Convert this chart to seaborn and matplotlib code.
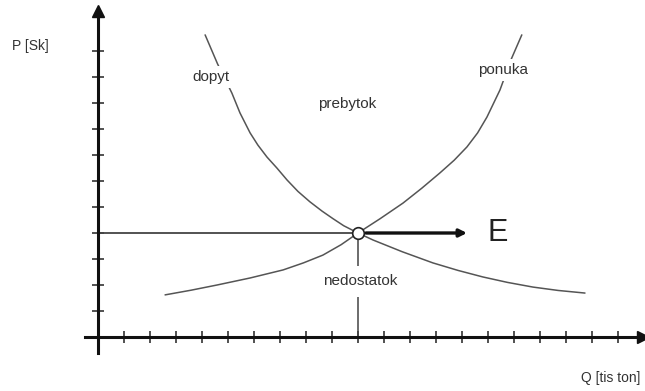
import matplotlib
matplotlib.use('Agg')
import matplotlib.pyplot as plt
import seaborn as sns

# market diagram: demand (dopyt) vs supply (ponuka)
demand_q = [4.12, 4.6, 5.15, 5.46, 5.85, 6.15, 6.5, 6.88, 7.27, 7.69, 8.15, 8.62,
            9.04, 9.45, 10.0, 10.58, 11.7, 12.88, 13.85, 14.8, 15.75, 16.73,
            17.7, 18.73]
demand_p = [11.62, 10.5, 9.38, 8.62, 7.85, 7.38, 6.92, 6.5, 6.04, 5.6, 5.2, 4.84,
            4.55, 4.28, 4.0, 3.73, 3.28, 2.85, 2.56, 2.31, 2.1, 1.92,
            1.79, 1.69]

supply_q = [2.58, 3.58, 4.58, 5.85, 7.12, 7.9, 8.65, 9.35, 10.0, 10.85, 11.73,
            12.45, 13.15, 13.7, 14.19, 14.6, 14.96, 15.46, 15.9, 16.3]
supply_p = [1.62, 1.8, 2.0, 2.27, 2.58, 2.85, 3.15, 3.55, 4.0, 4.55, 5.15,
            5.72, 6.31, 6.8, 7.31, 7.85, 8.46, 9.5, 10.7, 11.62]

eq_q, eq_p = 10.0, 4.0
arrow_len = 4.3

q_ticks = list(range(1, 21))
p_ticks = list(range(1, 12))

TXT = '#333333'
CURVE = '#555555'

sns.set_theme(style='white')
plt.rcParams['font.family'] = ['Liberation Sans', 'DejaVu Sans']

fig = plt.figure(figsize=(6.45, 3.91), dpi=100)
ax = fig.add_axes([0, 0, 1, 1])
ax.set_xlim(-98 / 26, 547 / 26)
ax.set_ylim(-54 / 26, 337 / 26)

# axes through the origin, with arrow heads
for side in ['top', 'right']:
    ax.spines[side].set_visible(False)
ax.spines['left'].set_position(('data', 0))
ax.spines['bottom'].set_position(('data', 0))
ax.spines['left'].set_bounds(-0.6, 12.4)
ax.spines['bottom'].set_bounds(-0.5, 20.8)
for side in ['left', 'bottom']:
    ax.spines[side].set_linewidth(2.2)
    ax.spines[side].set_color('#111111')
    ax.spines[side].set_zorder(4)
ax.plot(0, 12.55, marker='^', ms=8, color='#111111', clip_on=False, zorder=5)
ax.plot(20.95, 0, marker='>', ms=8, color='#111111', clip_on=False, zorder=5)

ax.set_xticks(q_ticks)
ax.set_yticks(p_ticks)
ax.set_xticklabels([])
ax.set_yticklabels([])
ax.tick_params(direction='inout', length=9, width=1.1, color='#222222',
               left=True, bottom=True)

# curves
sns.lineplot(x=demand_q, y=demand_p, sort=False, color=CURVE, lw=1.1, ax=ax)
sns.lineplot(x=supply_q, y=supply_p, sort=False, color=CURVE, lw=1.1, ax=ax)

# guide lines to the equilibrium
ax.plot([0, eq_q], [eq_p, eq_p], color='#444444', lw=1.3, zorder=2)
ax.plot([eq_q, eq_q], [0, eq_p], color='#444444', lw=1.1, zorder=2)

ax.annotate('', xy=(eq_q + arrow_len, eq_p), xytext=(eq_q + 0.2, eq_p),
            arrowprops=dict(arrowstyle='-|>', color='#111111', lw=2.4,
                            mutation_scale=11), zorder=3)
sns.scatterplot(x=[eq_q], y=[eq_p], s=70, color='white', edgecolor='#222222',
                linewidth=1.2, zorder=6, ax=ax)

box = dict(facecolor='white', edgecolor='none', pad=3)
ax.text(4.35, 10.0, 'dopyt', fontsize=11, color=TXT, ha='center', va='center',
        bbox=box, zorder=5)
ax.text(9.6, 8.96, 'prebytok', fontsize=11, color=TXT, ha='center', va='center')
ax.text(15.58, 10.27, 'ponuka', fontsize=11, color=TXT, ha='center', va='center',
        bbox=box, zorder=5)
ax.text(10.08, 2.15, 'nedostatok', fontsize=11, color=TXT, ha='center', va='center',
        bbox=dict(facecolor='white', edgecolor='none', pad=6), zorder=5)
ax.text(15.0, 4.0, 'E', fontsize=22, color='#222222', ha='left', va='center')
ax.text(-2.6, 11.2, 'P [Sk]', fontsize=10, color=TXT, ha='center', va='center')
ax.text(19.7, -1.58, 'Q [tis ton]', fontsize=10, color=TXT, ha='center', va='center')

fig.savefig('out.png', dpi=100, facecolor='white')
